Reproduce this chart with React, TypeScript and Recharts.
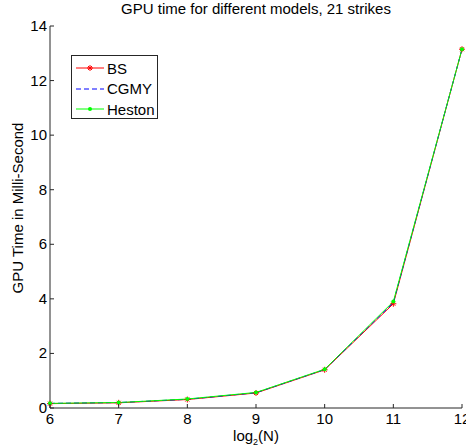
import React from "react";
import {
  LineChart,
  Line,
  XAxis,
  YAxis,
  Legend,
} from "recharts";

// log2(N) values on the x axis
const logN: number[] = [6, 7, 8, 9, 10, 11, 12];

// GPU time (ms) per model
const bsTime: number[] = [0.16, 0.19, 0.31, 0.55, 1.4, 3.82, 13.15];
const cgmyTime: number[] = [0.17, 0.2, 0.32, 0.56, 1.41, 3.86, 13.15];
const hestonTime: number[] = [0.17, 0.2, 0.33, 0.57, 1.42, 3.9, 13.15];

const xTicks: number[] = [6, 7, 8, 9, 10, 11, 12];
const yTicks: number[] = [0, 2, 4, 6, 8, 10, 12, 14];

const seriesNames: string[] = ["BS", "CGMY", "Heston"];

const data = logN.map((n, i) => ({
  n,
  bs: bsTime[i],
  cgmy: cgmyTime[i],
  heston: hestonTime[i],
}));

const FONT = "Liberation Sans, Arial, Helvetica, sans-serif";
const AXIS = "#262626";

const BottomTick = (props: any) => {
  const { x, y, payload } = props;
  return (
    <g>
      <line x1={x} x2={x} y1={y} y2={y - 4} stroke={AXIS} />
      <text x={x} y={y + 16} textAnchor="middle" fontSize={15} fill="#000" fontFamily={FONT}>
        {payload.value}
      </text>
    </g>
  );
};

const TopTick = (props: any) => {
  const { x, y } = props;
  return <line x1={x} x2={x} y1={y} y2={y + 4} stroke={AXIS} />;
};

const LeftTick = (props: any) => {
  const { x, y, payload } = props;
  return (
    <g>
      <line x1={x} x2={x + 4} y1={y} y2={y} stroke={AXIS} />
      <text x={x - 3} y={y + 5} textAnchor="end" fontSize={15} fill="#000" fontFamily={FONT}>
        {payload.value}
      </text>
    </g>
  );
};

const RightTick = (props: any) => {
  const { x, y } = props;
  return <line x1={x} x2={x - 4} y1={y} y2={y} stroke={AXIS} />;
};

const StarDot = (props: any) => {
  const { cx, cy } = props;
  if (cx == null || cy == null) return null;
  const r = 3;
  return (
    <g stroke="#ff0000" strokeWidth={1}>
      <line x1={cx - r} x2={cx + r} y1={cy} y2={cy} />
      <line x1={cx} x2={cx} y1={cy - r} y2={cy + r} />
      <line x1={cx - 2} x2={cx + 2} y1={cy - 2} y2={cy + 2} />
      <line x1={cx - 2} x2={cx + 2} y1={cy + 2} y2={cy - 2} />
    </g>
  );
};

const GreenDot = (props: any) => {
  const { cx, cy } = props;
  if (cx == null || cy == null) return null;
  return <circle cx={cx} cy={cy} r={2} fill="#00ff00" stroke="none" />;
};

const LegendBox = () => (
  <div
    style={{
      border: `1px solid ${AXIS}`,
      background: "#fff",
      width: 87,
      height: 64,
      boxSizing: "border-box",
      fontFamily: FONT,
      fontSize: 15,
      color: "#000",
      paddingTop: 2,
    }}
  >
    {seriesNames.map((name, i) => (
      <div key={name} style={{ display: "flex", alignItems: "center", height: 20.5 }}>
        <svg width={34} height={12} style={{ marginRight: 1 }}>
          {i === 0 && (
            <>
              <line x1={4} x2={32} y1={6} y2={6} stroke="#ff0000" />
              <StarDot cx={18} cy={6} />
            </>
          )}
          {i === 1 && (
            <line x1={4} x2={32} y1={6} y2={6} stroke="#0000ff" strokeDasharray="5 3" />
          )}
          {i === 2 && (
            <>
              <line x1={4} x2={32} y1={6} y2={6} stroke="#00ff00" />
              <GreenDot cx={18} cy={6} />
            </>
          )}
        </svg>
        <span>{name}</span>
      </div>
    ))}
  </div>
);

export default function App() {
  return (
    <div style={{ position: "absolute", left: 0, top: 0, width: 466, height: 447, background: "#fff" }}>
      <LineChart
        width={466}
        height={447}
        data={data}
        margin={{ top: 26, right: 4, left: 0, bottom: 0 }}
      >
        <XAxis
          dataKey="n"
          type="number"
          domain={[6, 12]}
          ticks={xTicks}
          height={39}
          tickSize={0}
          tickMargin={0}
          stroke={AXIS}
          tick={<BottomTick />}
          interval={0}
        />
        <XAxis
          xAxisId="top"
          dataKey="n"
          type="number"
          orientation="top"
          domain={[6, 12]}
          ticks={xTicks}
          height={0}
          tickSize={0}
          tickMargin={0}
          stroke={AXIS}
          tick={<TopTick />}
          interval={0}
        />
        <YAxis
          type="number"
          domain={[0, 14]}
          ticks={yTicks}
          width={50}
          tickSize={0}
          tickMargin={0}
          stroke={AXIS}
          tick={<LeftTick />}
          interval={0}
        />
        <YAxis
          yAxisId="right"
          orientation="right"
          type="number"
          domain={[0, 14]}
          ticks={yTicks}
          width={0}
          tickSize={0}
          tickMargin={0}
          stroke={AXIS}
          tick={<RightTick />}
          interval={0}
        />
        <Line
          dataKey="bs"
          name="BS"
          stroke="#ff0000"
          strokeWidth={1}
          dot={<StarDot />}
          activeDot={false}
          isAnimationActive={false}
        />
        <Line
          dataKey="cgmy"
          name="CGMY"
          stroke="#0000ff"
          strokeWidth={1}
          strokeDasharray="5 3"
          dot={false}
          activeDot={false}
          isAnimationActive={false}
        />
        <Line
          dataKey="heston"
          name="Heston"
          stroke="#00ff00"
          strokeWidth={1}
          dot={<GreenDot />}
          activeDot={false}
          isAnimationActive={false}
        />
        <Legend
          layout="vertical"
          align="center"
          verticalAlign="middle"
          content={<LegendBox />}
          wrapperStyle={{ position: "absolute", left: 71, top: 55, width: 87, height: 64 }}
        />
        <text x={256} y={14} textAnchor="middle" fontSize={15} fontFamily={FONT} fill="#000">
          GPU time for different models, 21 strikes
        </text>
        <text
          x={23}
          y={208}
          textAnchor="middle"
          fontSize={15}
          fontFamily={FONT}
          fill="#000"
          transform="rotate(-90 23 208)"
        >
          GPU Time in Milli-Second
        </text>
        <text x={256} y={441} textAnchor="middle" fontSize={15} fontFamily={FONT} fill="#000">
          log
          <tspan fontSize={9} dy={4}>2</tspan>
          <tspan dy={-4}>(N)</tspan>
        </text>
      </LineChart>
    </div>
  );
}
